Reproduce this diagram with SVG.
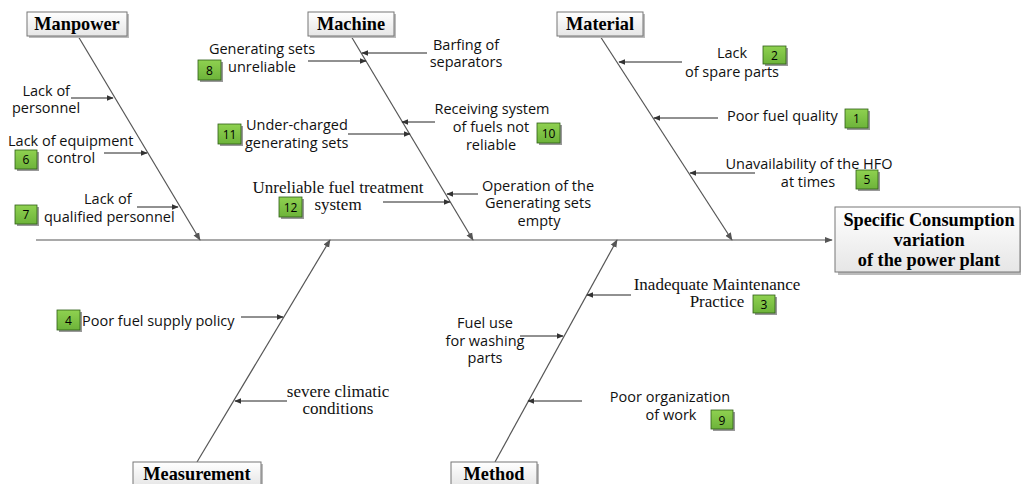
<svg xmlns="http://www.w3.org/2000/svg" width="1021" height="484" viewBox="0 0 1021 484">
<defs>
<linearGradient id="boxg" x1="0" y1="0" x2="0" y2="1"><stop offset="0" stop-color="#ffffff"/><stop offset="1" stop-color="#e6e6e6"/></linearGradient>
<linearGradient id="badg" x1="0" y1="0" x2="0" y2="1"><stop offset="0" stop-color="#8fd150"/><stop offset="1" stop-color="#6db33a"/></linearGradient>
<marker id="ah" viewBox="0 0 10 10" refX="9" refY="5" markerWidth="7" markerHeight="7" markerUnits="userSpaceOnUse" orient="auto"><path d="M0,1 L10,5 L0,9 Z" fill="#333"/></marker>
<marker id="ahs" viewBox="0 0 10 10" refX="9" refY="5" markerWidth="8" markerHeight="8" markerUnits="userSpaceOnUse" orient="auto"><path d="M0,1 L10,5 L0,9 Z" fill="#555"/></marker>
</defs>
<style>
.cat{fill:url(#boxg);stroke:#777;stroke-width:1}
.sh{fill:#bbb}
.ct{font-family:"Liberation Serif",serif;font-weight:bold;font-size:18.3px;fill:#000;text-anchor:middle}
.s{font-family:"Open Sans","Noto Sans",sans-serif;font-size:14.5px;fill:#111}
.r{font-family:"Liberation Serif",serif;font-size:17px;fill:#111}
.m{text-anchor:middle}
.e{text-anchor:end}
.bone{stroke:#555;stroke-width:1.2;fill:none}
.sub{stroke:#222;stroke-width:1;fill:none;marker-end:url(#ah)}
.bd{fill:url(#badg);stroke:#2f5e17;stroke-width:0.8}
.bs{fill:#999}
.bt{font-family:"Open Sans","Noto Sans",sans-serif;font-size:12px;fill:#000;text-anchor:middle}
</style>
<rect width="1021" height="484" fill="#fff"/>

<g id="connectors">
<line class="bone" x1="36" y1="240" x2="832" y2="240" marker-end="url(#ahs)"/>
<line class="bone" x1="78" y1="36" x2="200" y2="240" marker-end="url(#ahs)"/>
<line class="bone" x1="351" y1="36" x2="473" y2="240" marker-end="url(#ahs)"/>
<line class="bone" x1="600" y1="36" x2="732" y2="240" marker-end="url(#ahs)"/>
<line class="bone" x1="197" y1="462" x2="330" y2="240" marker-end="url(#ahs)"/>
<line class="bone" x1="495" y1="462" x2="617" y2="240" marker-end="url(#ahs)"/>
<line class="sub" x1="71" y1="98" x2="113" y2="98"/>
<line class="sub" x1="104" y1="153" x2="147" y2="153"/>
<line class="sub" x1="137" y1="207" x2="178" y2="207"/>
<line class="sub" x1="308" y1="61" x2="366" y2="61"/>
<line class="sub" x1="427" y1="53" x2="362" y2="53"/>
<line class="sub" x1="348" y1="134" x2="410" y2="134"/>
<line class="sub" x1="435" y1="122" x2="402" y2="122"/>
<line class="sub" x1="383" y1="202" x2="450" y2="202"/>
<line class="sub" x1="478" y1="194" x2="447" y2="194"/>
<line class="sub" x1="682" y1="62" x2="619" y2="62"/>
<line class="sub" x1="718" y1="118" x2="654" y2="118"/>
<line class="sub" x1="755" y1="173" x2="690" y2="173"/>
<line class="sub" x1="241" y1="317" x2="283" y2="317"/>
<line class="sub" x1="287" y1="401" x2="235" y2="401"/>
<line class="sub" x1="631" y1="295" x2="587" y2="295"/>
<line class="sub" x1="520" y1="336" x2="563" y2="336"/>
<line class="sub" x1="582" y1="401" x2="528" y2="401"/>
</g>

<g id="head">
<rect class="sh" x="838" y="210" width="185" height="65"/>
<rect class="cat" x="835" y="207" width="185" height="65"/>
<text class="ct" x="929" y="226">Specific Consumption</text>
<text class="ct" x="929" y="246">variation</text>
<text class="ct" x="929" y="266">of the power plant</text>
</g>

<g id="manpower">
<rect class="sh" x="29" y="14" width="100" height="24"/>
<rect class="cat" x="27" y="12" width="100" height="24"/>
<text class="ct" x="77" y="30">Manpower</text>
</g>
<g id="machine">
<rect class="sh" x="310" y="14" width="86" height="24"/>
<rect class="cat" x="308" y="12" width="86" height="24"/>
<text class="ct" x="351" y="30">Machine</text>
</g>
<g id="material">
<rect class="sh" x="559" y="14" width="86" height="24"/>
<rect class="cat" x="557" y="12" width="86" height="24"/>
<text class="ct" x="600" y="30">Material</text>
</g>
<g id="measurement">
<rect class="sh" x="135" y="464" width="128" height="24"/>
<rect class="cat" x="133" y="462" width="128" height="24"/>
<text class="ct" x="197" y="480">Measurement</text>
</g>
<g id="method">
<rect class="sh" x="453" y="464" width="86" height="24"/>
<rect class="cat" x="451" y="462" width="86" height="24"/>
<text class="ct" x="494" y="480">Method</text>
</g>

<g id="c-lack-personnel">
<text class="s e" x="70" y="96">Lack of</text>
<text class="s" x="12" y="113">personnel</text>
</g>
<g id="c-equipment">
<text class="s" x="8" y="146">Lack of equipment</text>
<text class="s" x="47" y="163">control</text>
<rect class="bs" x="17" y="152" width="22" height="19"/><rect class="bd" x="15" y="150" width="22" height="19"/><text class="bt" x="26" y="164">6</text>
</g>
<g id="c-qualified">
<text class="s" x="84" y="204">Lack of</text>
<text class="s" x="44" y="222">qualified personnel</text>
<rect class="bs" x="17" y="207" width="22" height="19"/><rect class="bd" x="15" y="205" width="22" height="19"/><text class="bt" x="26" y="219">7</text>
</g>

<g id="c-gensets">
<text class="s m" x="262" y="54">Generating sets</text>
<text class="s m" x="262" y="72">unreliable</text>
<rect class="bs" x="200" y="62" width="23" height="20"/><rect class="bd" x="198" y="60" width="23" height="20"/><text class="bt" x="209.5" y="74.5">8</text>
</g>
<g id="c-barfing">
<text class="s m" x="466" y="50">Barfing of</text>
<text class="s m" x="466" y="67">separators</text>
</g>
<g id="c-undercharged">
<text class="s" x="246" y="130">Under-charged</text>
<text class="s" x="245" y="148">generating sets</text>
<rect class="bs" x="220" y="126" width="23" height="20"/><rect class="bd" x="218" y="124" width="23" height="20"/><text class="bt" x="229.5" y="138.5">11</text>
</g>
<g id="c-receiving">
<text class="s m" x="492" y="114">Receiving system</text>
<text class="s m" x="491" y="132">of fuels not</text>
<text class="s m" x="491" y="150">reliable</text>
<rect class="bs" x="539" y="125" width="23" height="20"/><rect class="bd" x="537" y="123" width="23" height="20"/><text class="bt" x="548.5" y="137.5">10</text>
</g>
<g id="c-treatment">
<text class="r m" x="338" y="193">Unreliable fuel treatment</text>
<text class="r m" x="338" y="210">system</text>
<rect class="bs" x="281" y="199" width="23" height="20"/><rect class="bd" x="279" y="197" width="23" height="20"/><text class="bt" x="290.5" y="211.5">12</text>
</g>
<g id="c-operation">
<text class="s m" x="538" y="191">Operation of the</text>
<text class="s m" x="538" y="208">Generating sets</text>
<text class="s m" x="539" y="226">empty</text>
</g>

<g id="c-spare">
<text class="s m" x="732" y="58">Lack</text>
<text class="s m" x="732" y="77">of spare parts</text>
<rect class="bs" x="765" y="48" width="23" height="18"/><rect class="bd" x="763" y="46" width="23" height="18"/><text class="bt" x="774.5" y="59.5">2</text>
</g>
<g id="c-quality">
<text class="s" x="727" y="121">Poor fuel quality</text>
<rect class="bs" x="847" y="111" width="23" height="19"/><rect class="bd" x="845" y="109" width="23" height="19"/><text class="bt" x="856.5" y="123">1</text>
</g>
<g id="c-hfo">
<text class="s m" x="809" y="169">Unavailability of the HFO</text>
<text class="s m" x="808" y="187">at times</text>
<rect class="bs" x="858" y="172" width="22" height="19"/><rect class="bd" x="856" y="170" width="22" height="19"/><text class="bt" x="867" y="184">5</text>
</g>

<g id="c-supply">
<rect class="bs" x="59" y="312" width="23" height="20"/><rect class="bd" x="57" y="310" width="23" height="20"/><text class="bt" x="68.5" y="324.5">4</text>
<text class="s" x="82" y="326">Poor fuel supply policy</text>
</g>
<g id="c-climatic">
<text class="r m" x="338" y="397">severe climatic</text>
<text class="r m" x="338" y="414">conditions</text>
</g>

<g id="c-maintenance">
<text class="r m" x="717" y="290">Inadequate Maintenance</text>
<text class="r m" x="717" y="307">Practice</text>
<rect class="bs" x="755" y="297" width="22" height="18"/><rect class="bd" x="753" y="295" width="22" height="18"/><text class="bt" x="764" y="308.5">3</text>
</g>
<g id="c-washing">
<text class="s m" x="485" y="328">Fuel use</text>
<text class="s m" x="485" y="346">for washing</text>
<text class="s m" x="485" y="363">parts</text>
</g>
<g id="c-organization">
<text class="s m" x="670" y="402">Poor organization</text>
<text class="s m" x="671" y="420">of work</text>
<rect class="bs" x="713" y="412" width="22" height="19"/><rect class="bd" x="711" y="410" width="22" height="19"/><text class="bt" x="722" y="424.5">9</text>
</g>
</svg>
